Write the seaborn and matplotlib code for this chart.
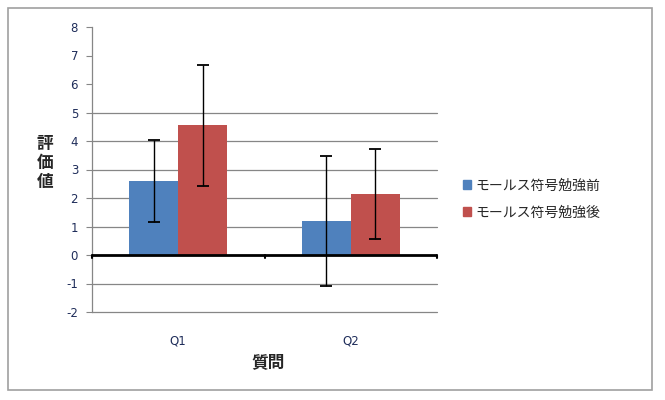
import matplotlib
matplotlib.use("Agg")
import matplotlib.pyplot as plt
import matplotlib.patches as mpatches
import seaborn as sns
import pandas as pd

# data
questions = ["Q1", "Q2"]
groups = ["モールス符号勉強前", "モールス符号勉強後"]
means_before = [2.6, 1.2]
means_after = [4.55, 2.15]
err_before = [1.43, 2.28]
err_after = [2.12, 1.58]
y_ticks = [-2, -1, 0, 1, 2, 3, 4, 5, 6, 7, 8]
grid_ticks = [-2, -1, 1, 2, 3, 4, 5]

colors = ["#4F81BD", "#C0504D"]

df = pd.DataFrame({
    "質問": questions * 2,
    "群": [groups[0]] * 2 + [groups[1]] * 2,
    "評価値": means_before + means_after,
    "err": err_before + err_after,
})

sns.set_style("white")
plt.rcParams["font.family"] = ["Noto Sans CJK JP", "DejaVu Sans"]

fig = plt.figure(figsize=(6.65, 4.0), dpi=100)
ax = fig.add_axes([92 / 665, 1 - 312 / 400, 345 / 665, 285 / 400])

sns.barplot(data=df, x="質問", y="評価値", hue="群", palette=colors,
            errorbar=None, width=0.57, saturation=1, linewidth=0, ax=ax, zorder=3)

# error bars at bar centres
for cont, errs, vals in zip(ax.containers, [err_before, err_after], [means_before, means_after]):
    xs = [p.get_x() + p.get_width() / 2 for p in cont.patches]
    ax.errorbar(xs, vals, yerr=errs, fmt="none", ecolor="black",
                elinewidth=1, capsize=4, capthick=1.3, zorder=4)

ax.set_ylim(-2, 8)
ax.set_xlim(-0.5, 1.5)
ax.set_yticks(y_ticks)
ax.set_yticklabels([str(t) for t in y_ticks], fontsize=8.5, color="#1F2D5A",
                   family="DejaVu Sans")
for t in grid_ticks:
    ax.axhline(t, color="#868686", lw=0.9, zorder=1, clip_on=False)
ax.axhline(0, color="black", lw=2, zorder=5)
# category tick marks on the zero line
for xv in [-0.5, 0.5, 1.5]:
    ax.plot([xv, xv], [0, -0.12], color="black", lw=1.5, zorder=5, clip_on=False)

ax.set_xticks([0, 1])
ax.set_xticklabels(questions, fontsize=8.5, color="#1F2D5A", family="DejaVu Sans")
ax.tick_params(axis="x", length=0, pad=16)
ax.tick_params(axis="y", length=4, color="#868686", left=True, pad=6)

for s in ["top", "right", "bottom"]:
    ax.spines[s].set_visible(False)
ax.spines["left"].set_color("#868686")
ax.spines["left"].set_linewidth(0.9)

ax.set_xlabel("")
ax.set_ylabel("")
fig.text(45 / 665, 1 - 163 / 400, "評\n価\n値", ha="center", va="center",
         fontsize=12, fontweight="bold", linespacing=1.1)
fig.text(268 / 665, 1 - 362 / 400, "質問", ha="center", va="center",
         fontsize=12, fontweight="bold")

handles = [mpatches.Patch(color=c) for c in colors]
ax.legend(handles, groups, loc="center left", bbox_to_anchor=(450 / 665, 1 - 199 / 400),
          bbox_transform=fig.transFigure, frameon=False, fontsize=10,
          handlelength=0.6, handleheight=0.6, handletextpad=0.3, labelspacing=0.9)

fig.patches.append(mpatches.Rectangle((8 / 665, 1 - 390 / 400), 644 / 665, 382 / 400,
                                      transform=fig.transFigure, fill=False,
                                      edgecolor="#A0A0A0", lw=1.2))

fig.savefig("out.png", dpi=100)
